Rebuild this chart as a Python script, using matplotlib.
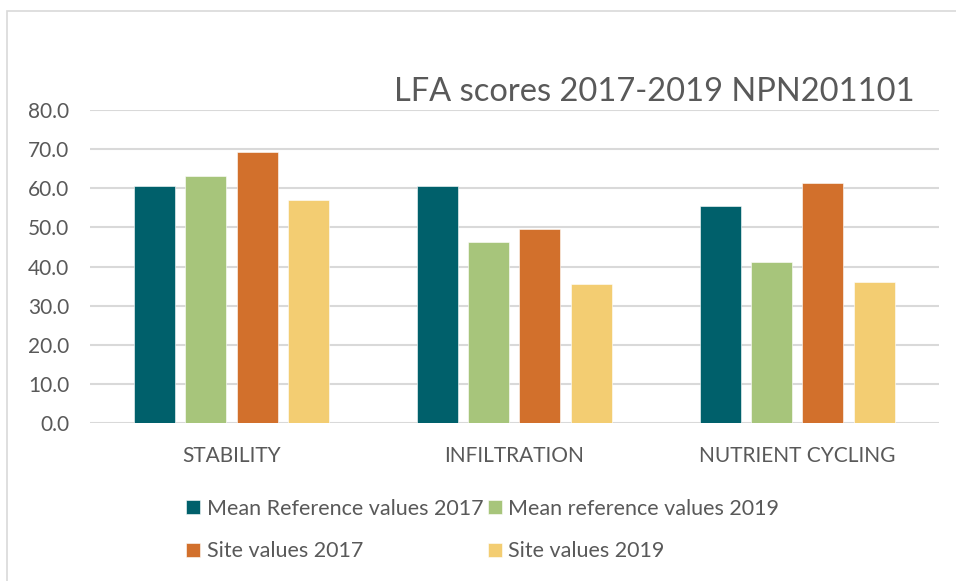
import matplotlib.pyplot as plt
import numpy as np
from matplotlib.patches import Rectangle

# Datos
categorias = ['STABILITY', 'INFILTRATION', 'NUTRIENT CYCLING']
series = ['Mean Reference values 2017', 'Mean reference values 2019',
          'Site values 2017', 'Site values 2019']
ref_2017 = [60.6, 60.6, 55.4]
ref_2019 = [63.1, 46.2, 41.3]
site_2017 = [69.2, 49.5, 61.4]
site_2019 = [57.0, 35.6, 36.1]
colores = ['#00606B', '#A7C57B', '#D2702C', '#F3CD72']

plt.rcParams['font.family'] = ['Lato', 'DejaVu Sans']
gris = '#595959'

fig = plt.figure(figsize=(9.56, 5.81), dpi=100)
ax = fig.add_axes([0.0941, 0.2714, 0.8879, 0.5393])

# marco exterior del grafico
fig.patches.append(Rectangle((7 / 956, -0.1), 1.2, 1.1 - 11 / 581,
                             transform=fig.transFigure, fill=False,
                             edgecolor='#D9D9D9', linewidth=1.2))

x = np.arange(len(categorias))
ancho = 0.145
paso = 0.181
valores = [ref_2017, ref_2019, site_2017, site_2019]
barras = []
for i, (vals, nombre, c) in enumerate(zip(valores, series, colores)):
    b = ax.bar(x + (i - 1.5) * paso, vals, width=ancho, color=c, label=nombre,
               edgecolor='white', linewidth=0.4, zorder=3)
    barras.append(b)

ax.set_xlim(-0.5, 2.5)
ax.set_ylim(0, 80)
ax.set_yticks(np.arange(0, 81, 10))
ax.set_yticklabels([f'{v:.1f}' for v in np.arange(0, 81, 10)])
ax.set_xticks(x)
ax.set_xticklabels(categorias)
ax.tick_params(axis='both', length=0, labelsize=15, colors=gris)
ax.tick_params(axis='y', pad=15)
ax.tick_params(axis='x', pad=16)
ax.grid(axis='y', color='#D9D9D9', linewidth=1.5, zorder=0)
for s in ax.spines.values():
    s.set_visible(False)

fig.text(915 / 956, 1 - 92 / 581, 'LFA scores 2017-2019 NPN201101',
         ha='right', va='center', fontsize=23.5, color=gris)

# orden por filas como en el original
orden = [0, 2, 1, 3]
fig.legend([barras[i] for i in orden], [series[i] for i in orden],
           loc='center left', bbox_to_anchor=(167 / 956, 1 - 530 / 581),
           ncol=2, frameon=False, fontsize=15.5, labelcolor=gris,
           handlelength=0.65, handleheight=0.65, handletextpad=0.3,
           columnspacing=0.2, labelspacing=1.05)

fig.savefig('out.png', dpi=100)
